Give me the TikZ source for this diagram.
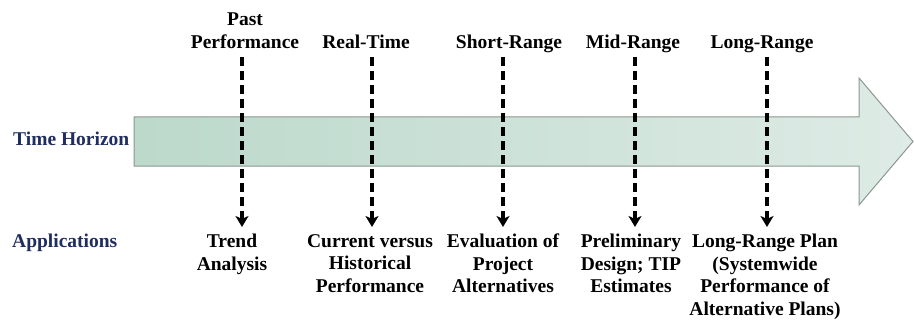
\documentclass[tikz,border=0pt]{standalone}
\usepackage{fontspec}
\setmainfont{Liberation Serif}
\newfontfamily\tnrb{Liberation Serif}[UprightFont={* Bold}]
\usetikzlibrary{arrows.meta}
\definecolor{navy}{RGB}{31,45,96}
\definecolor{arrowL}{RGB}{188,217,203}
\definecolor{arrowR}{RGB}{222,235,230}
\definecolor{arrowB}{RGB}{140,150,145}
\tikzset{
  lbl/.style={font=\tnrb\fontsize{19.5}{22.5}\selectfont, align=center, inner sep=0pt, anchor=base},
  side/.style={font=\tnrb\fontsize{19.5}{22.5}\selectfont, text=navy, inner sep=0pt, anchor=base west},
  conn/.style={draw=black, line width=3.6pt, dash pattern=on 9pt off 5pt, -{Stealth[length=11pt,width=13pt,inset=3pt]}}
}
\begin{document}
\begin{tikzpicture}[x=1pt,y=-1pt]
\useasboundingbox (0,0) rectangle (914,321);
% big arrow
\shade[left color=arrowL, right color=arrowR, draw=arrowB, line width=1pt]
  (134,117) -- (859,117) -- (859,78) -- (913,141.5) -- (859,205) -- (859,166) -- (134,166) -- cycle;
% side labels
\node[side] (th) at (13,146) {Time Horizon};
\node[side] (ap) at (12,247) {Applications};
% top labels
\node[lbl] (t1) at (245,49) {Performance};
\node[lbl] (t1b) at (245,26) {Past};
\node[lbl] (t2) at (366,49) {Real-Time};
\node[lbl] (t3) at (509,49) {Short-Range};
\node[lbl] (t4) at (633,49) {Mid-Range};
\node[lbl] (t5) at (762,49) {Long-Range};
% bottom labels
\node[lbl, anchor=north] (b1) at (232,234) {Trend\\Analysis};
\node[lbl, anchor=north] (b2) at (370,234) {Current versus\\Historical\\Performance};
\node[lbl, anchor=north] (b3) at (503,234) {Evaluation of\\Project\\Alternatives};
\node[lbl, anchor=north] (b4) at (631,234) {Preliminary\\Design; TIP\\Estimates};
\node[lbl, anchor=north] (b5) at (765,234) {Long-Range Plan\\(Systemwide\\Performance of\\Alternative Plans)};
% connectors
\foreach \i/\x in {1/242,2/372,3/503,4/635,5/767}{
  \coordinate (s\i) at (\x,57);
  \coordinate (e\i) at (\x,227);
  \draw[conn] (s\i) -- (e\i);
}
\end{tikzpicture}
\end{document}
